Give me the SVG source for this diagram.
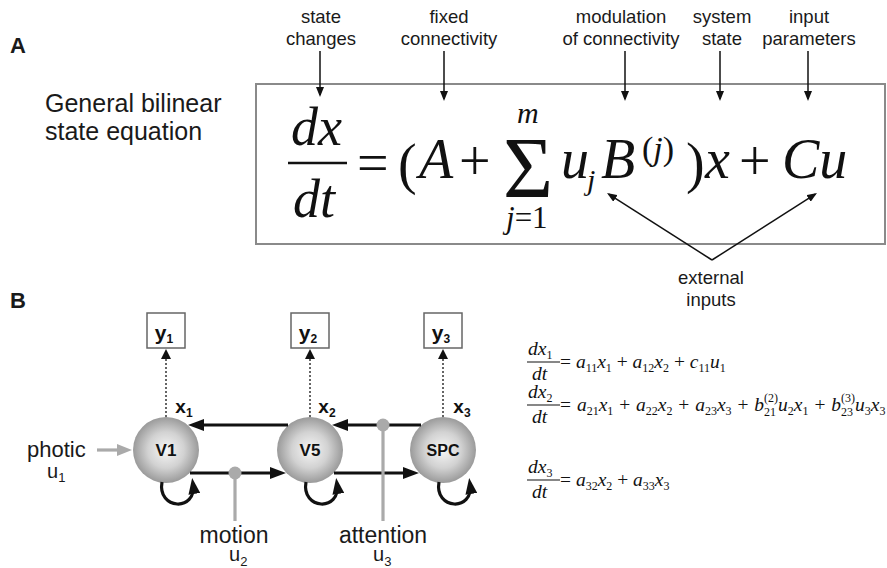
<svg xmlns="http://www.w3.org/2000/svg" width="887" height="568" viewBox="0 0 887 568">
<defs>
<style>
.sans{font-family:"Liberation Sans",Arial,sans-serif;fill:#1a1a1a}
.lbl{font-size:18.5px;text-anchor:middle}
.panel{font-size:22px;font-weight:bold}
.mi{font-family:"Liberation Serif","Times New Roman",serif;font-style:italic;fill:#111}
.mn{font-family:"Liberation Serif","Times New Roman",serif;fill:#111}
.big{font-size:56px}
.frac{font-size:54px}
.thin{stroke:#111;stroke-width:1.5;fill:none}
.thick{stroke:#111;stroke-width:3.2;fill:none}
.gray{stroke:#aaa;stroke-width:3.2;fill:none}
.dotl{stroke:#333;stroke-width:1.5;stroke-dasharray:2 2;fill:none}
.node{font-family:"Liberation Sans",Arial,sans-serif;font-weight:bold;text-anchor:middle;fill:#111}
.eq{font-family:"Liberation Serif","Times New Roman",serif;font-size:19.5px;fill:#111}
.i{font-style:italic}
.sb{font-size:12px;font-style:normal}
.ybox{fill:#fff;stroke:#666;stroke-width:1.5}
</style>
<marker id="ah" viewBox="0 0 10 8" refX="8" refY="4" markerWidth="10" markerHeight="8" markerUnits="userSpaceOnUse" orient="auto"><path d="M0,0L10,4L0,8z" fill="#111"/></marker>
<marker id="ahb" viewBox="0 0 16 12" refX="10" refY="6" markerWidth="16" markerHeight="12" markerUnits="userSpaceOnUse" orient="auto"><path d="M0,0L16,6L0,12z" fill="#111"/></marker>
<marker id="ahg" viewBox="0 0 15 12" refX="9" refY="6" markerWidth="15" markerHeight="12" markerUnits="userSpaceOnUse" orient="auto"><path d="M0,0L15,6L0,12z" fill="#aaa"/></marker>
<marker id="ahd" viewBox="0 0 10 10" refX="6" refY="5" markerWidth="10" markerHeight="10" markerUnits="userSpaceOnUse" orient="auto"><path d="M0,0L10,5L0,10z" fill="#111"/></marker>
<radialGradient id="sph" cx="50%" cy="50%" r="50%">
<stop offset="0" stop-color="#f6f6f6"/>
<stop offset="0.55" stop-color="#d2d2d2"/>
<stop offset="1" stop-color="#9a9a9a"/>
</radialGradient>
</defs>
<rect width="887" height="568" fill="#fff"/>

<!-- Panel A -->
<text class="sans panel" x="10" y="53">A</text>
<g id="eq-label" class="sans" font-size="25">
<text x="45" y="112">General bilinear</text>
<text x="45" y="140">state equation</text>
</g>
<rect id="eq-box" x="256" y="84" width="629" height="160" fill="none" stroke="#8a8a8a" stroke-width="2"/>

<g id="labels-top" class="sans lbl">
<text x="321" y="23">state</text><text x="321" y="45">changes</text>
<text x="449" y="23">fixed</text><text x="449" y="45">connectivity</text>
<text x="621" y="23">modulation</text><text x="621" y="45">of connectivity</text>
<text x="722" y="23">system</text><text x="722" y="45">state</text>
<text x="809" y="23">input</text><text x="809" y="45">parameters</text>
<text x="711" y="284">external</text><text x="711" y="306">inputs</text>
</g>

<g id="equation">
<text class="mi frac" x="291" y="145">dx</text>
<line x1="288" y1="163" x2="347" y2="163" stroke="#111" stroke-width="2.4"/>
<text class="mi frac" x="293" y="217">dt</text>
<text class="mn big" x="357" y="182">=</text>
<text class="mn big" x="398" y="183">(</text>
<text class="mi big" x="419" y="178">A</text>
<text class="mn big" x="459" y="180">+</text>
<text class="mn" font-size="86" x="503" y="197">Σ</text>
<text class="mi" font-size="30" x="517" y="123">m</text>
<text class="mn" font-size="31" x="506" y="228"><tspan class="i">j</tspan>=1</text>
<text class="mi big" x="561" y="178">u</text>
<text class="mi" font-size="30" x="587" y="190">j</text>
<text class="mi big" x="601" y="178">B</text>
<text class="mn" font-size="34" x="642" y="160">(<tspan class="i">j</tspan>)</text>
<text class="mn big" x="686" y="182">)</text>
<text class="mi big" x="705" y="178">x</text>
<text class="mn big" x="739" y="180">+</text>
<text class="mi big" x="782" y="178">Cu</text>
</g>

<g id="connectors-A" class="thin">
<line x1="320" y1="51" x2="320" y2="95" marker-end="url(#ah)"/>
<line x1="444" y1="51" x2="444" y2="99" marker-end="url(#ah)"/>
<line x1="625" y1="51" x2="625" y2="99" marker-end="url(#ah)"/>
<line x1="720" y1="51" x2="720" y2="99" marker-end="url(#ah)"/>
<line x1="808" y1="51" x2="808" y2="99" marker-end="url(#ah)"/>
<line x1="712" y1="260" x2="608.7" y2="194.1" marker-end="url(#ah)"/>
<line x1="712" y1="260" x2="815.3" y2="194.1" marker-end="url(#ah)"/>
</g>

<!-- Panel B -->
<text class="sans panel" x="10" y="308">B</text>

<g id="y1"><rect class="ybox" x="147" y="313" width="38" height="35"/><text class="node" font-size="21" x="164" y="340">y<tspan font-size="12" dy="3">1</tspan></text></g>
<g id="y2"><rect class="ybox" x="291" y="313" width="38" height="35"/><text class="node" font-size="21" x="308" y="340">y<tspan font-size="12" dy="3">2</tspan></text></g>
<g id="y3"><rect class="ybox" x="424" y="313" width="38" height="35"/><text class="node" font-size="21" x="441" y="340">y<tspan font-size="12" dy="3">3</tspan></text></g>

<g id="V1"><circle cx="166" cy="450" r="33" fill="url(#sph)"/><text class="node" font-size="17" x="166" y="456">V1</text></g>
<g id="V5"><circle cx="310" cy="450" r="33" fill="url(#sph)"/><text class="node" font-size="17" x="310" y="456">V5</text></g>
<g id="SPC"><circle cx="443" cy="450" r="33" fill="url(#sph)"/><text class="node" font-size="16" x="443" y="456">SPC</text></g>

<g id="state-labels" class="node" font-size="19">
<text x="184" y="413">x<tspan font-size="12" dy="4">1</tspan></text>
<text x="327" y="413">x<tspan font-size="12" dy="4">2</tspan></text>
<text x="462" y="413">x<tspan font-size="12" dy="4">3</tspan></text>
</g>

<g id="connectors-B">
<line class="dotl" x1="166" y1="417" x2="166" y2="353" marker-end="url(#ahd)"/>
<line class="dotl" x1="310" y1="417" x2="310" y2="353" marker-end="url(#ahd)"/>
<line class="dotl" x1="443" y1="417" x2="443" y2="353" marker-end="url(#ahd)"/>
<line class="thick" x1="288" y1="425" x2="194" y2="425" marker-end="url(#ahb)"/>
<line class="thick" x1="421" y1="425" x2="338" y2="425" marker-end="url(#ahb)"/>
<line class="thick" x1="190" y1="473" x2="280" y2="473" marker-end="url(#ahb)"/>
<line class="thick" x1="334" y1="473" x2="413" y2="473" marker-end="url(#ahb)"/>
<path class="thick" d="M162,482 C157,510 197,512 193,484" marker-end="url(#ahb)"/>
<path class="thick" d="M306,482 C301,510 341,512 337,484" marker-end="url(#ahb)"/>
<path class="thick" d="M439,482 C434,510 474,512 470,484" marker-end="url(#ahb)"/>
<line class="gray" x1="97" y1="450" x2="126" y2="450" marker-end="url(#ahg)"/>
<line class="gray" x1="235" y1="473" x2="235" y2="521"/>
<circle cx="235" cy="473" r="6.5" fill="#aaa"/>
<line class="gray" x1="383" y1="425" x2="383" y2="521"/>
<circle cx="383" cy="425" r="6.5" fill="#aaa"/>
</g>

<g id="input-labels" class="sans" fill="#333">
<text x="27" y="457" font-size="22">photic</text>
<text x="47" y="478" font-size="20">u<tspan font-size="13" dy="4">1</tspan></text>
<text x="234" y="543" font-size="23" text-anchor="middle">motion</text>
<text x="229" y="561" font-size="20">u<tspan font-size="13" dy="5">2</tspan></text>
<text x="383" y="543" font-size="23" text-anchor="middle">attention</text>
<text x="373" y="561" font-size="20">u<tspan font-size="13" dy="5">3</tspan></text>
</g>

<g id="model-equations">
<text class="eq i" font-size="21" x="528" y="355">dx<tspan class="sb" dy="4">1</tspan></text>
<line x1="527" y1="362" x2="560" y2="362" stroke="#111" stroke-width="1.2"/>
<text class="eq i" font-size="21" x="532" y="380">dt</text>
<text class="eq" x="560" y="368">= <tspan class="i">a</tspan><tspan class="sb" dy="4">11</tspan><tspan class="i" dy="-4">x</tspan><tspan class="sb" dy="4">1</tspan><tspan dy="-4"> + </tspan><tspan class="i">a</tspan><tspan class="sb" dy="4">12</tspan><tspan class="i" dy="-4">x</tspan><tspan class="sb" dy="4">2</tspan><tspan dy="-4"> + </tspan><tspan class="i">c</tspan><tspan class="sb" dy="4">11</tspan><tspan class="i" dy="-4">u</tspan><tspan class="sb" dy="4">1</tspan></text>

<text class="eq i" font-size="21" x="528" y="398">dx<tspan class="sb" dy="4">2</tspan></text>
<line x1="527" y1="405" x2="560" y2="405" stroke="#111" stroke-width="1.2"/>
<text class="eq i" font-size="21" x="532" y="423">dt</text>
<text class="eq" x="560" y="411" word-spacing="1">= <tspan class="i">a</tspan><tspan class="sb" dy="4">21</tspan><tspan class="i" dy="-4">x</tspan><tspan class="sb" dy="4">1</tspan><tspan dy="-4"> + </tspan><tspan class="i">a</tspan><tspan class="sb" dy="4">22</tspan><tspan class="i" dy="-4">x</tspan><tspan class="sb" dy="4">2</tspan><tspan dy="-4"> + </tspan><tspan class="i">a</tspan><tspan class="sb" dy="4">23</tspan><tspan class="i" dy="-4">x</tspan><tspan class="sb" dy="4">3</tspan><tspan dy="-4"> + </tspan><tspan class="i">b</tspan><tspan class="sb" dy="5">21</tspan><tspan class="sb" dx="-12" dy="-14">(2)</tspan><tspan class="i" dy="9">u</tspan><tspan class="sb" dy="4">2</tspan><tspan class="i" dy="-4">x</tspan><tspan class="sb" dy="4">1</tspan><tspan dy="-4"> + </tspan><tspan class="i">b</tspan><tspan class="sb" dy="5">23</tspan><tspan class="sb" dx="-12" dy="-14">(3)</tspan><tspan class="i" dy="9">u</tspan><tspan class="sb" dy="4">3</tspan><tspan class="i" dy="-4">x</tspan><tspan class="sb" dy="4">3</tspan></text>

<text class="eq i" font-size="21" x="528" y="473">dx<tspan class="sb" dy="4">3</tspan></text>
<line x1="527" y1="480" x2="560" y2="480" stroke="#111" stroke-width="1.2"/>
<text class="eq i" font-size="21" x="532" y="498">dt</text>
<text class="eq" x="560" y="486">= <tspan class="i">a</tspan><tspan class="sb" dy="4">32</tspan><tspan class="i" dy="-4">x</tspan><tspan class="sb" dy="4">2</tspan><tspan dy="-4"> + </tspan><tspan class="i">a</tspan><tspan class="sb" dy="4">33</tspan><tspan class="i" dy="-4">x</tspan><tspan class="sb" dy="4">3</tspan></text>
</g>
</svg>
